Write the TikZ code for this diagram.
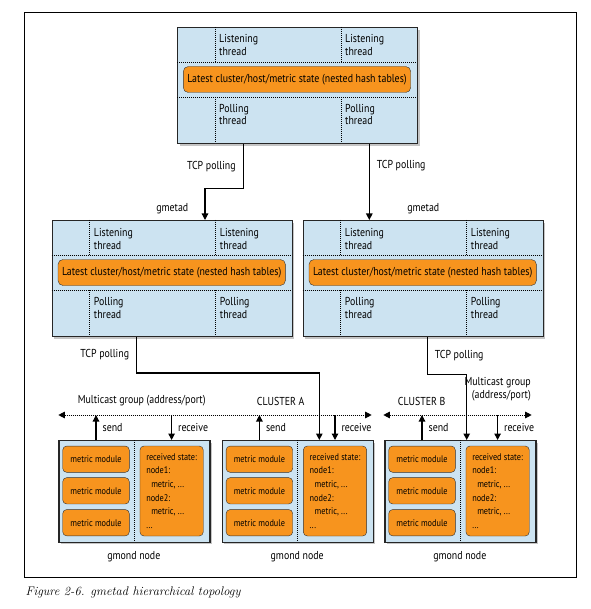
\documentclass[tikz,border=0pt]{standalone}
\usepackage{fontspec}
\setsansfont[FakeStretch=0.86]{PT Sans}
\usepackage{tikz}
\usetikzlibrary{arrows.meta}
\usetikzlibrary{shadows}
\usetikzlibrary{positioning}
\definecolor{mblue}{HTML}{CCE3F1}
\definecolor{morange}{HTML}{F7941E}
\tikzset{lbl/.style = {font = \sffamily\fontsize{11.5}{13}\selectfont, inner sep = 1pt}}
\tikzset{small/.style = {font = \sffamily\fontsize{9.6}{13.6}\selectfont}}
\tikzset{thr/.style = {lbl, anchor = west, align = left}}
\tikzset{sep/.style = {line width = 0.9pt, dash pattern = on 1pt off 1pt}}
\tikzset{shade/.style = {drop shadow = {shadow xshift = 2pt, shadow yshift = -2pt, fill = black!45}}}
\tikzset{gbox/.style = {draw = black!85, line width = 1.2pt, fill = mblue, anchor = north west,
    minimum width = 240, minimum height = 116, inner sep = 0, shade}}
\tikzset{nbox/.style = {gbox, minimum width = 151, minimum height = 101.7}}
\tikzset{state/.style = {lbl, draw = black!80, fill = morange, rounded corners = 5pt,
    minimum width = 227.4, minimum height = 26, inner sep = 0}}
\tikzset{module/.style = {small, draw = black!80, fill = morange, rounded corners = 4pt,
    minimum width = 66.6, minimum height = 26.3, inner sep = 0}}
\tikzset{recv/.style = {module, minimum width = 63.3, minimum height = 90, align = left}}
\tikzset{tcp/.style = {line width = 1.2pt, -{Triangle[width = 6.5pt, length = 6.5pt]}}}
\tikzset{mcast/.style = {sep, {Triangle[width = 6.5pt, length = 6.5pt]}-{Triangle[width = 6.5pt, length = 6.5pt]}}}

\newcommand{\gmetadbox}[3]{%
  \begin{scope}[shift = {(#2, #3)}]
    \node [gbox] (#1) at (0, 0) {};
    \draw [sep] (0, 35) -- (240, 35);
    \draw [sep] (0, 70) -- (240, 70);
    \foreach \x in {38, 164} {
      \draw [sep] (\x, 0) -- (\x, 35);
      \draw [sep] (\x, 70) -- (\x, 116);
      \node [thr] (#1-listen\x) at (\x + 3, 18.5) {Listening\\thread};
      \node [thr] (#1-poll\x) at (\x + 3, 87.5) {Polling\\thread};
    }
    \node [state] (#1-state) at (120, 52.5) {Latest cluster/host/metric state (nested hash tables)};
  \end{scope}}

\newcommand{\gmondbox}[3]{%
  \begin{scope}[shift = {(#2, #3)}]
    \node [nbox] (#1) at (0, 0) {};
    \draw [sep] (76, 0) -- (76, 101.7);
    \foreach \y [count = \i] in {19.2, 50.8, 82.7}
      \node [module] (#1-m\i) at (37.7, \y) {metric module};
    \node [recv] (#1-r) at (113.3, 51) {received state:\\node1:\\\hspace*{5pt}metric, ...\\node2:\\\hspace*{5pt}metric, ...\\...};
    \node [lbl] (#1-name) at (75.5, 116.7) {gmond node};
  \end{scope}}

\begin{document}
\begin{tikzpicture}[x = 1pt, y = -1pt]
  \useasboundingbox (0, 0) rectangle (590, 609);
  \draw [line width = 0.9pt] (24, 12) rectangle (576, 577);

  \gmetadbox{top}{177}{27}
  \gmetadbox{midL}{51.7}{220}
  \gmetadbox{midR}{302.7}{220}

  \gmondbox{gA1}{58.3}{440}
  \gmondbox{gA2}{221.7}{440}
  \gmondbox{gB}{384.3}{440}

  \node [lbl, above = 5pt] (gmetadL) at (midL.north) {gmetad};
  \node [lbl, above = 5pt] (gmetadR) at (midR.north) {gmetad};

  \draw [tcp] ([xshift = 66.3]top.south west) -- node [lbl, left = 6pt] (tcp1) {TCP polling}
    ++(0, 44) -| ([xshift = 153.3]midL.north west);
  \draw [tcp] ([xshift = 192.3]top.south west) -- node [lbl, right = 6pt, pos = 0.28] (tcp2) {TCP polling}
    ([xshift = 66.6]midR.north west);
  \draw [tcp] ([xshift = 85]midL.south west) -- node [lbl, left = 6pt] (tcp3) {TCP polling}
    ++(0, 35.7) -| ([xshift = 97.6]gA2.north west);
  \draw [tcp] ([xshift = 124.6]midR.south west) -- node [lbl, right = 6pt] (tcp4) {TCP polling}
    ++(0, 37.3) -| ([xshift = 82.4]gB.north west);

  \coordinate (mcA-w) at (58.3, 415);
  \coordinate (mcA-e) at (371.7, 415);
  \coordinate (mcB-w) at (383.3, 415);
  \coordinate (mcB-e) at (531.7, 415);
  \draw [mcast] (mcA-w) -- (mcA-e);
  \draw [mcast] (mcB-w) -- (mcB-e);

  \node [lbl] (groupA) at (141.7, 401) {Multicast group (address/port)};
  \node [lbl] (clusterA) at (280.7, 401) {CLUSTER A};
  \node [lbl] (clusterB) at (421.7, 401) {CLUSTER B};
  \node [lbl, anchor = east, align = right] (groupB) at (532, 389) {Multicast group\\(address/port)};

  \foreach \g/\m in {gA1/mcA-w, gA2/mcA-w, gB/mcB-w} {
    \draw [tcp] (\g-m1 |- \g.north) -- node [lbl, right = 5pt] (\g-send) {send} (\g-m1 |- \m);
    \draw [tcp] (\g-r |- \m) -- node [lbl, right = 5pt] (\g-recv) {receive} (\g-r |- \g.north);
  }

  \node [anchor = west, font = \itshape\fontsize{12.5}{14}\selectfont] (caption) at (22, 592)
    {Figure 2-6. gmetad hierarchical topology};
\end{tikzpicture}
\end{document}
